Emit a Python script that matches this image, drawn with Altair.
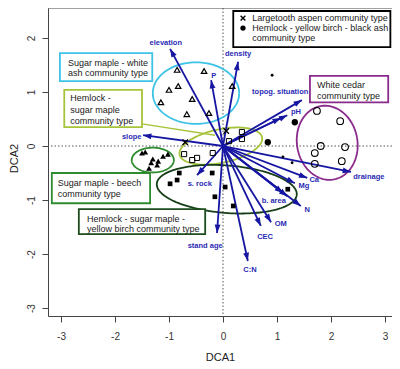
import altair as alt
import numpy as np
import pandas as pd

FONT = "Liberation Sans"
XD = [-3.241, 3.130]
YD = [-3.148, 2.556]
BLUE = "#1616a3"
LABBLUE = "#2a2ab5"

# ---------------- data ----------------
# environmental vectors (arrow tips; two unlabeled twins near pH and b. area)
arrow_x = [-0.98, -0.22, 0.28, 1.46, 1.19, 1.07, -1.48, -0.48, -0.11, 0.46, 0.70, 0.89, 1.44, 1.19, 1.11, 1.33, 1.56, 2.37]
arrow_y = [1.80, 1.22, 1.56, 0.85, 0.57, 0.52, 0.20, -0.54, -1.61, -2.13, -1.48, -1.41, -1.11, -0.93, -0.87, -0.69, -0.59, -0.48]

vec_labels = ["elevation", "P", "density", "topog. situation", "pH", "slope", "s. rock", "stand age",
              "C:N", "CEC", "OM", "N", "b. area", "Mg", "Ca", "drainage"]
vec_label_x = [-1.06, -0.17, 0.28, 1.06, 1.35, -1.69, -0.43, -0.33, 0.50, 0.78, 1.07, 1.56, 0.94, 1.50, 1.69, 2.70]
vec_label_y = [1.91, 1.30, 1.70, 1.00, 0.63, 0.17, -0.70, -1.85, -2.30, -1.69, -1.44, -1.19, -1.02, -0.74, -0.63, -0.57]

# site scores by community type
open_tri_x = [-0.85, -0.35, -1.00, -0.83, -1.15, -0.57, -0.67, -0.26, 0.17]
open_tri_y = [1.41, 1.39, 1.04, 1.11, 0.81, 0.87, 0.59, 0.61, 1.11]
filled_tri_x = [-1.50, -1.44, -1.30, -1.33, -1.20, -1.22, -1.11, -1.02, -1.37]
filled_tri_y = [-0.13, -0.11, -0.24, -0.31, -0.28, -0.35, -0.19, -0.15, -0.41]
open_sq_x = [-0.72, -0.57, -0.48, -0.19, 0.11, 0.35, 0.35]
open_sq_y = [-0.15, -0.26, -0.22, -0.13, 0.09, 0.26, 0.13]
filled_sq_x = [-0.81, -0.98, -0.85, -0.20, 0.04, -0.15, 0.19, 1.20]
filled_sq_y = [-0.50, -0.70, -0.63, -0.50, -0.76, -0.94, -1.11, -0.80]
big_dot_x = [0.83, 1.33]
big_dot_y = [0.07, 0.44]
small_dot_x = [0.91, 1.11, 1.28]
small_dot_y = [1.31, -0.20, -0.31]
open_circ_x = [1.74, 2.17, 1.81, 2.26, 1.70, 1.70, 2.20]
open_circ_y = [0.65, 0.46, 0.00, -0.02, -0.13, -0.33, -0.28]
cross_x = [0.06, -0.70]
cross_y = [0.28, 0.07]

# ellipses around community types
ell_names = ["cyan", "ygreen", "green", "dark", "purple"]
ell_cx = [-0.50, -0.04, -1.30, 0.07, 1.93]
ell_cy = [0.98, 0.00, -0.26, -0.80, 0.06]
ell_a = [0.80, 0.78, 0.39, 1.30, 0.56]
ell_b = [0.57, 0.31, 0.23, 0.44, 0.69]
ell_rot = [0, 12, 0, -4.5, 10]
ell_colors = ["#3ec3e6", "#a6c43a", "#2e8b2e", "#173f17", "#8a2a8c"]

# label boxes
box_names = ["cyan", "ygreen", "green", "dark", "purple", "legend"]
box_x1 = [-3.02, -2.94, -3.17, -2.67, 1.61, 0.19]
box_x2 = [-1.31, -1.50, -1.35, -0.33, 3.06, 3.10]
box_y1 = [1.72, 1.04, -0.50, -1.17, 1.30, 2.50]
box_y2 = [1.20, 0.35, -1.06, -1.63, 0.81, 1.83]
box_colors = ["#3ec3e6", "#a6c43a", "#2e8b2e", "#1e4d1e", "#8a2a8c", "#000000"]

box_text = ["Sugar maple - white", "ash community type",
            "Hemlock -", "sugar maple", "community type",
            "Sugar maple - beech", "community type",
            "Hemlock - sugar maple -", "yellow birch community type",
            "White cedar", "community type",
            "Largetooth aspen community type", "Hemlock - yellow birch - black ash", "community type"]
box_text_x = [-2.87, -2.87, -2.83, -2.83, -2.83, -3.06, -3.06, -2.52, -2.52, 1.74, 1.74, 0.54, 0.54, 0.54]
box_text_y = [1.54, 1.35, 0.89, 0.67, 0.46, -0.69, -0.89, -1.35, -1.54, 1.13, 0.93, 2.37, 2.185, 2.00]

legend_sym_x = [0.37, 0.37]
legend_sym_y = [2.37, 2.185]

callout_x = [-1.50, -0.15]
callout_y = [0.41, 0.20]

# ---------------- helpers ----------------
XS = alt.Scale(domain=XD, nice=False, zero=False)
YS = alt.Scale(domain=YD, nice=False, zero=False)
XAX = alt.Axis(values=[-3, -2, -1, 0, 1, 2, 3], labelExpr="datum.value", title="DCA1", grid=False,
               tickSize=6, labelPadding=9, labelFontSize=10, labelColor="#333", tickColor="#444",
               domainColor="#444", labelFont=FONT, titleFont=FONT, titleFontSize=11,
               titleFontWeight="normal", titleColor="#222", titleY=44, titleBaseline="alphabetic")
YAX = alt.Axis(values=[-3, -2, -1, 0, 1, 2], labelExpr="datum.value", title="DCA2", grid=False,
               tickSize=6, labelPadding=6, labelFontSize=10, labelColor="#333", tickColor="#444",
               domainColor="#444", labelAngle=270, labelAlign="center", labelBaseline="bottom",
               labelFont=FONT, titleFont=FONT, titleFontSize=11, titleFontWeight="normal",
               titleColor="#222", titleX=-34, titleY=150, titleAngle=270, titleAlign="center",
               titleBaseline="middle")


def xq(f):
    return alt.X(f"{f}:Q", scale=XS, axis=XAX)


def yq(f):
    return alt.Y(f"{f}:Q", scale=YS, axis=YAX)


def pts(xs, ys):
    return pd.DataFrame({"x": xs, "y": ys})


# ---------------- layers ----------------
zero = pd.DataFrame({"v": [0.0]})
vline = alt.Chart(zero).mark_rule(color="#555", strokeDash=[1.5, 2], strokeWidth=1).encode(x=xq("v"))
hline = alt.Chart(zero).mark_rule(color="#555", strokeDash=[1.5, 2], strokeWidth=1).encode(y=yq("v"))

rows = []
t = np.linspace(0, 2 * np.pi, 145)
for n, cx, cy, a, b, r in zip(ell_names, ell_cx, ell_cy, ell_a, ell_b, ell_rot):
    th = np.radians(r)
    ex = cx + a * np.cos(t) * np.cos(th) - b * np.sin(t) * np.sin(th)
    ey = cy + a * np.cos(t) * np.sin(th) + b * np.sin(t) * np.cos(th)
    for i, (u, v) in enumerate(zip(ex, ey)):
        rows.append({"name": n, "i": i, "x": u, "y": v})
ell_df = pd.DataFrame(rows)
ellipses = alt.Chart(ell_df).mark_line(strokeWidth=1.8).encode(
    x=xq("x"), y=yq("y"), detail="name:N", order="i:Q",
    color=alt.Color("name:N", scale=alt.Scale(domain=ell_names, range=ell_colors), legend=None))

callout = alt.Chart(pts(callout_x, callout_y)).mark_line(color="#a6c43a", strokeWidth=1.5).encode(
    x=xq("x"), y=yq("y"))

arr = pd.DataFrame({"x0": 0.0, "y0": 0.0, "x": arrow_x, "y": arrow_y})
arr["ang"] = np.degrees(np.arctan2(arr["x"], arr["y"])) % 360
arrows = alt.Chart(arr).mark_rule(color=BLUE, strokeWidth=1.8).encode(
    x=xq("x0"), y=yq("y0"), x2="x:Q", y2="y:Q")
HEAD = "M0,0 L-0.62,1.75 L0.62,1.75 Z"
heads = alt.Chart(arr).mark_point(shape=HEAD, filled=True, size=90, color=BLUE, opacity=1).encode(
    x=xq("x"), y=yq("y"), angle=alt.Angle("ang:Q", scale=None))

CROSS = "M-1,-1 L1,1 M-1,1 L1,-1"
p_open_tri = alt.Chart(pts(open_tri_x, open_tri_y)).mark_point(
    shape="triangle-up", size=30, filled=False, color="black", strokeWidth=1.2, opacity=1).encode(x=xq("x"), y=yq("y"))
p_fill_tri = alt.Chart(pts(filled_tri_x, filled_tri_y)).mark_point(
    shape="triangle-up", size=34, filled=True, color="black", opacity=1).encode(x=xq("x"), y=yq("y"))
p_open_sq = alt.Chart(pts(open_sq_x, open_sq_y)).mark_point(
    shape="square", size=26, filled=False, color="black", strokeWidth=1, opacity=1).encode(x=xq("x"), y=yq("y"))
p_fill_sq = alt.Chart(pts(filled_sq_x, filled_sq_y)).mark_point(
    shape="square", size=22, filled=True, color="black", opacity=1).encode(x=xq("x"), y=yq("y"))
p_big_dot = alt.Chart(pts(big_dot_x, big_dot_y)).mark_point(
    shape="circle", size=40, filled=True, color="black", opacity=1).encode(x=xq("x"), y=yq("y"))
p_small_dot = alt.Chart(pts(small_dot_x, small_dot_y)).mark_point(
    shape="circle", size=8, filled=True, color="black", opacity=1).encode(x=xq("x"), y=yq("y"))
p_open_circ = alt.Chart(pts(open_circ_x, open_circ_y)).mark_point(
    shape="circle", size=45, filled=False, color="black", strokeWidth=1.1, opacity=1).encode(x=xq("x"), y=yq("y"))
p_cross = alt.Chart(pts(cross_x, cross_y)).mark_point(
    shape=CROSS, size=30, filled=False, color="black", strokeWidth=1.4, opacity=1).encode(x=xq("x"), y=yq("y"))

box_df = pd.DataFrame({"name": box_names, "x1": box_x1, "x2": box_x2, "y1": box_y1, "y2": box_y2})
boxes = alt.Chart(box_df).mark_rect(fill="white", strokeWidth=1.8).encode(
    x=xq("x1"), x2="x2:Q", y=yq("y1"), y2="y2:Q",
    stroke=alt.Stroke("name:N", scale=alt.Scale(domain=box_names, range=box_colors), legend=None))

txt_df = pd.DataFrame({"t": box_text, "x": box_text_x, "y": box_text_y})
box_txt = alt.Chart(txt_df).mark_text(align="left", baseline="middle", font=FONT, fontSize=9,
                                      color="#1a1a1a").encode(x=xq("x"), y=yq("y"), text="t:N")

lab_df = pd.DataFrame({"t": vec_labels, "x": vec_label_x, "y": vec_label_y})
vec_txt = alt.Chart(lab_df).mark_text(align="center", baseline="middle", font=FONT, fontSize=7.5,
                                      fontWeight="bold", color=LABBLUE).encode(x=xq("x"), y=yq("y"), text="t:N")

leg_cross = alt.Chart(pts(legend_sym_x[:1], legend_sym_y[:1])).mark_point(
    shape=CROSS, size=22, filled=False, color="black", strokeWidth=1.4, opacity=1).encode(x=xq("x"), y=yq("y"))
leg_dot = alt.Chart(pts(legend_sym_x[1:], legend_sym_y[1:])).mark_point(
    shape="circle", size=28, filled=True, color="black", opacity=1).encode(x=xq("x"), y=yq("y"))

top_border = alt.Chart(zero).mark_rule(color="#444", strokeWidth=1).encode(
    x=alt.value(0), x2=alt.value(344), y=alt.value(0))

chart = alt.layer(
    vline, hline, ellipses, callout, arrows, heads,
    p_open_tri, p_fill_tri, p_open_sq, p_fill_sq, p_big_dot, p_small_dot, p_open_circ, p_cross,
    boxes, box_txt, vec_txt, leg_cross, leg_dot, top_border
).properties(
    width=344, height=308,
    autosize=alt.AutoSizeParams(type="none"),
    padding={"left": 40, "top": 0, "right": 0, "bottom": 45},
    background="white",
).configure_view(stroke=None)

chart.save("out.html", embed_options={"renderer": "svg", "actions": False})
